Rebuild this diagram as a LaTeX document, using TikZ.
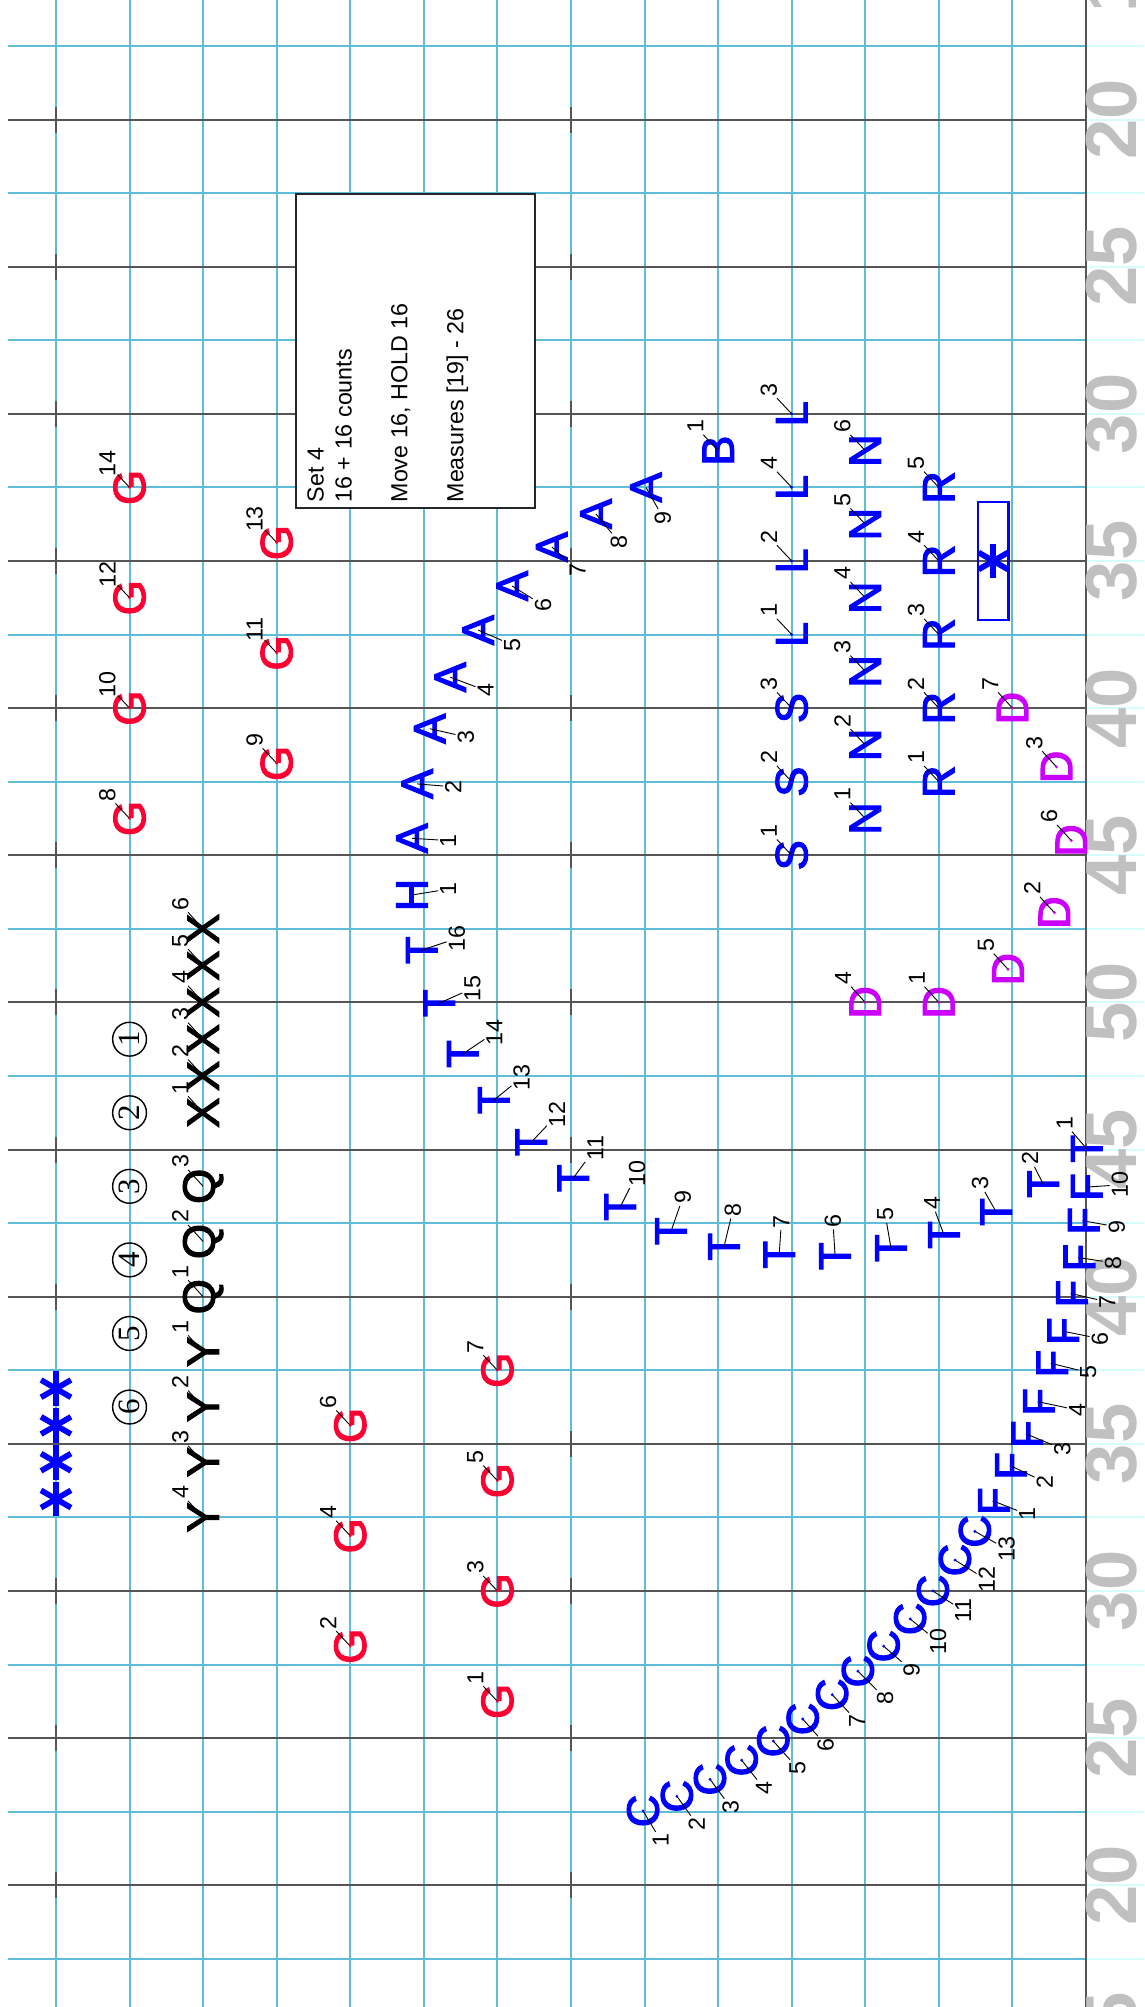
\documentclass[tikz,border=0pt]{standalone}
\usepackage{fontspec}
\setmainfont{Liberation Sans}
\newfontfamily\digitfont{Liberation Serif}
\newfontfamily\perffont[FakeBold=2.5]{Liberation Sans}
\usetikzlibrary{calc}

\definecolor{gridcyan}{RGB}{94,190,218}
\definecolor{gridfaint}{RGB}{215,252,252}
\definecolor{yardgrey}{RGB}{192,192,192}
\definecolor{linegrey}{RGB}{85,85,85}
\definecolor{gred}{RGB}{255,0,51}
\definecolor{dmag}{RGB}{204,0,255}

\tikzset{
  gridln/.style={gridcyan, line width=0.75pt},
  yardln/.style={linegrey, line width=0.75pt},
  faintln/.style={gridfaint, line width=0.75pt},
  hashln/.style={linegrey, line width=1pt},
  perf/.style={inner sep=0pt, rotate=90, font=\perffont\fontsize{17.5}{17.5}\selectfont},
  num/.style={inner sep=0.6pt, rotate=90, font=\fontsize{9}{9}\selectfont},
  lead/.style={black, line width=0.35pt},
  yard/.style={rotate=90, inner sep=0pt, text=yardgrey, font=\fontsize{28}{28}\selectfont\bfseries},
  circnum/.style={circle, draw, line width=0.55pt, inner sep=0pt, minimum size=0.46cm, rotate=90, font=\digitfont\fontsize{12}{12}\selectfont},
  spoke/.style={blue, line width=2.2pt},
}

\begin{document}
\begin{tikzpicture}[x=1cm, y=-1cm]
  \useasboundingbox (-0.761,-0.625) rectangle (14.789,26.655);
  \clip (-0.761,-0.625) rectangle (14.789,26.655);

  % field grid
  \foreach \i in {0,...,13}
    \draw[gridln] (\i,-0.7) -- (\i,26.7);
  \foreach \j in {0,...,26}
    \draw[faintln] (14,\j) -- (14.8,\j);
  \foreach \j in {0,2,...,26}
    \draw[gridln] (-0.652,\j) -- (14,\j);
  \foreach \j in {1,3,...,25}
    \draw[yardln] (-0.652,\j) -- (14,\j);
  \draw[yardln] (14,-0.7) -- (14,26.7);
  % hash marks
  \foreach \j in {1,3,...,25} {
    \draw[hashln] (0,\j-0.177) -- (0,\j+0.177);
    \draw[hashln] (7,\j-0.177) -- (7,\j+0.177);
  }
  % yard numbers
  \foreach \k/\yd in {-1/15,1/20,3/25,5/30,7/35,9/40,11/45,13/50,15/45,17/40,19/35,21/30,23/25,25/20,27/15}
    \node[yard] (yd\k) at (14.35,\k) {\yd};

  % set info box
  \node[draw=black!85, fill=white, line width=0.6pt, anchor=north west, inner sep=0pt,
        minimum width=3.25cm, minimum height=4.27cm] (setbox) at (3.25,2.0) {};
  \node[rotate=90, anchor=north west, align=left, inner sep=0pt,
        font=\fontsize{9}{10.8}\selectfont] (setinfo) at (3.41,6.21)
    {Set 4\\16 + 16 counts\\[10.8pt]Move 16, HOLD 16\\[10.8pt]Measures [19] - 26};

  % guard (red)
  \foreach \n/\x/\y in {14/1/6, 12/1/7.5, 10/1/9, 8/1/10.5, 13/3/6.75, 11/3/8.25, 9/3/9.75,
                        7/6/18, 5/6/19.5, 3/6/21, 1/6/22.5, 6/4/18.75, 4/4/20.25, 2/4/21.75} {
    \node[perf, text=gred] (G\n) at (\x,\y) {G};
    \node[num] (nG\n) at ($(G\n)+(-0.3,-0.32)$) {\n};
    \draw[lead] (G\n.center) -- (nG\n);
    \fill[gred] (G\n.center) circle (0.6pt);
  }

  % black block
  \foreach \l/\n/\y in {Y/1/17.75, Y/2/18.5, Y/3/19.25, Y/4/20, Q/1/17, Q/2/16.25, Q/3/15.5,
                        X/1/14.5, X/2/14, X/3/13.5, X/4/13, X/5/12.5, X/6/12} {
    \node[perf] (\l\n) at (2,\y) {\l};
    \node[num] (n\l\n) at ($(\l\n)+(-0.31,-0.34)$) {\n};
    \draw[lead] (\l\n.center) -- (n\l\n);
  }
  \foreach \n in {1,...,6}
    \node[circnum] (circ\n) at (1,12.5+\n) {\n};

  % asterisks
  \foreach \k/\y in {1/18.25, 2/18.75, 3/19.25, 4/19.75} {
    \coordinate (ast\k) at (0,\y);
    \foreach \a in {30,90,150}
      \draw[spoke] ($(ast\k)+(\a:0.235)$) -- ($(ast\k)+(\a+180:0.235)$);
  }

  % blue block on the grid
  \foreach \l/\n/\x/\y in {S/1/10/11, S/2/10/10, S/3/10/9, L/1/10/8, L/2/10/7, L/4/10/6, L/3/10/5,
                           N/1/11/10.5, N/2/11/9.5, N/3/11/8.5, N/4/11/7.5, N/5/11/6.5, N/6/11/5.5,
                           R/1/12/10, R/2/12/9, R/3/12/8, R/4/12/7, R/5/12/6, B/1/9/5.5} {
    \node[perf, text=blue] (\l\n) at (\x,\y) {\l};
    \node[num] (n\l\n) at ($(\l\n)+(-0.31,-0.33)$) {\n};
    \draw[lead] (\l\n.center) -- (n\l\n);
    \fill[blue] (\l\n.center) circle (0.6pt);
  }
  % prop box
  \node[draw=blue, line width=1pt, inner sep=0pt, minimum width=0.42cm, minimum height=1.6cm] (prop) at (12.74,7.0) {};
  \foreach \a in {30,90,150}
    \draw[spoke] ($(prop)+(\a:0.23)$) -- ($(prop)+(\a+180:0.23)$);

  % D (magenta)
  \foreach \n/\x/\y in {1/12/13, 4/11/13, 7/13/9, 3/13.6/9.8, 6/13.8/10.8, 2/13.57/11.78, 5/12.94/12.55} {
    \node[perf, text=dmag] (D\n) at (\x,\y) {D};
    \node[num] (nD\n) at ($(D\n)+(-0.3,-0.33)$) {\n};
    \draw[lead] (D\n.center) -- (nD\n);
    \fill[dmag] (D\n.center) circle (0.6pt);
  }

  % arc of A, H, T
  \foreach \l/\n/\x/\y/\dx/\dy in {A/1/4.84/10.77/0.49/0.03, A/2/4.91/10.03/0.49/0.04,
      A/3/5.08/9.28/0.49/0.11, A/4/5.36/8.58/0.48/0.18, A/5/5.74/7.94/0.46/0.2,
      A/6/6.2/7.34/0.42/0.26, A/7/6.74/6.81/0.35/0.31, A/8/7.34/6.36/0.31/0.38,
      A/9/8.02/6.0/0.23/0.41, H/1/4.84/11.54/0.49/-0.08,
      T/16/4.97/12.29/0.48/-0.16, T/15/5.21/13.01/0.45/-0.2, T/14/5.53/13.7/0.43/-0.29,
      T/13/5.95/14.33/0.38/-0.31, T/12/6.46/14.9/0.35/-0.37, T/11/7.03/15.39/0.3/-0.41,
      T/10/7.67/15.78/0.23/-0.46, T/9/8.36/16.11/0.16/-0.46, T/8/9.08/16.32/0.12/-0.5,
      T/7/9.83/16.43/0.03/-0.45, T/6/10.59/16.45/-0.03/-0.48, T/5/11.35/16.34/-0.08/-0.46,
      T/4/12.07/16.16/-0.16/-0.43, T/3/12.78/15.85/-0.22/-0.39, T/2/13.42/15.47/-0.18/-0.35,
      T/1/14.01/14.99/-0.3/-0.35} {
    \node[perf, text=blue] (\l\n) at (\x,\y) {\l};
    \node[num] (n\l\n) at ($(\l\n)+(\dx,\dy)$) {\n};
    \draw[lead] (\l\n.center) -- (n\l\n);
  }

  % arc of F and C
  \foreach \l/\n/\x/\y/\dx/\dy in {F/10/14.01/15.51/0.45/-0.03, F/9/13.97/15.97/0.45/0.08,
      F/8/13.91/16.47/0.46/0.07, F/7/13.81/16.96/0.48/0.11, F/6/13.69/17.47/0.5/0.1,
      F/5/13.54/17.91/0.49/0.12, F/4/13.36/18.43/0.52/0.11, F/3/13.2/18.87/0.48/0.2,
      F/2/12.98/19.3/0.46/0.22, F/1/12.75/19.78/0.45/0.18,
      C/13/12.49/20.19/0.43/0.24, C/12/12.22/20.58/0.43/0.27, C/11/11.92/21.0/0.41/0.27,
      C/10/11.61/21.38/0.38/0.31, C/9/11.25/21.75/0.38/0.33, C/8/10.9/22.09/0.37/0.37,
      C/7/10.55/22.41/0.34/0.36, C/6/10.15/22.74/0.31/0.35, C/5/9.75/23.04/0.33/0.37,
      C/4/9.32/23.3/0.3/0.38, C/3/8.89/23.56/0.28/0.38, C/2/8.44/23.79/0.27/0.38,
      C/1/7.98/23.99/0.24/0.4} {
    \node[perf, text=blue] (\l\n) at (\x,\y) {\l};
    \node[num] (n\l\n) at ($(\l\n)+(\dx,\dy)$) {\n};
    \draw[lead] (\l\n.center) -- (n\l\n);
    \fill[blue] (\l\n.center) circle (0.6pt);
  }
\end{tikzpicture}
\end{document}
